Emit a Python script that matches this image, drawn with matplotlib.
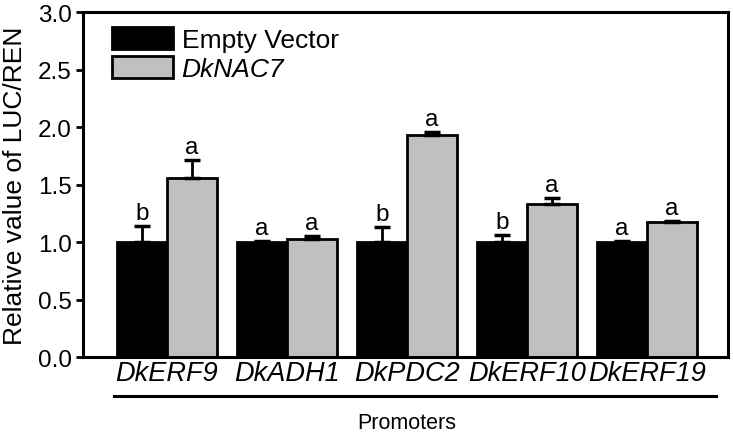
import numpy as np
import matplotlib.pyplot as plt

plt.rcParams['font.family'] = ['Liberation Sans', 'DejaVu Sans']

# === DATA ===
promoters = ['DkERF9', 'DkADH1', 'DkPDC2', 'DkERF10', 'DkERF19']
empty_vals = [1.00, 1.00, 1.00, 1.00, 1.00]
empty_err = [0.14, 0.01, 0.13, 0.06, 0.01]
nac7_vals = [1.56, 1.03, 1.93, 1.33, 1.17]
nac7_err = [0.15, 0.02, 0.03, 0.05, 0.01]
empty_sig = ['b', 'a', 'b', 'b', 'a']
nac7_sig = ['a', 'a', 'a', 'a', 'a']

fig = plt.figure(figsize=(7.33, 4.35), dpi=100)
ax = fig.add_axes([0.113, 0.177, 0.880, 0.793])

x = np.arange(len(promoters))
w = 0.415

err_style = dict(elinewidth=2, capsize=5.5, capthick=2.5)
ax.bar(x - w / 2, empty_vals, w, color='black', edgecolor='black', linewidth=2,
       yerr=[np.zeros(len(x)), empty_err], ecolor='black',
       error_kw=err_style, label='Empty Vector', zorder=2)
ax.bar(x + w / 2, nac7_vals, w, color='#c0c0c0', edgecolor='black', linewidth=2,
       yerr=[np.zeros(len(x)), nac7_err], ecolor='black',
       error_kw=err_style, label='DkNAC7', zorder=2)

# significance letters
for i in range(len(x)):
    ax.text(x[i] - w / 2, empty_vals[i] + empty_err[i] + 0.06, empty_sig[i],
            ha='center', va='baseline', fontsize=17.5)
    ax.text(x[i] + w / 2, nac7_vals[i] + nac7_err[i] + 0.06, nac7_sig[i],
            ha='center', va='baseline', fontsize=17.5)

ax.set_xlim(-0.70, 4.675)
ax.set_ylim(0, 3.0)
yt = np.arange(0, 3.01, 0.5)
ax.set_yticks(yt)
ax.set_yticklabels([f'{v:.1f}' for v in yt], fontsize=17.5)
ax.set_xticks(x)
ax.set_xticklabels(promoters, fontsize=19.5, style='italic')
ax.tick_params(axis='x', length=0, pad=2)
ax.tick_params(axis='y', direction='out', length=5, width=2, pad=3)
for s in ax.spines.values():
    s.set_linewidth(2.2)

ax.set_ylabel('Relative value of LUC/REN', fontsize=19)
ax.yaxis.set_label_coords(-0.086, 0.5)

# underline under promoter names and group label
ax.plot([-0.44, 4.58], [-0.113, -0.113], color='black', linewidth=2.2,
        transform=ax.get_xaxis_transform(), clip_on=False)
ax.text(np.mean(x), -0.191, 'Promoters', ha='center', va='center', fontsize=15.5,
        transform=ax.get_xaxis_transform())

leg = ax.legend(loc='upper left', bbox_to_anchor=(0.045, 0.957), frameon=False,
                fontsize=19, handlelength=2.3, handleheight=0.91, handletextpad=0.34,
                labelspacing=0.15, borderaxespad=0, borderpad=0)
for t in leg.get_texts():
    if t.get_text() == 'DkNAC7':
        t.set_style('italic')

plt.savefig('out.png', dpi=100)
